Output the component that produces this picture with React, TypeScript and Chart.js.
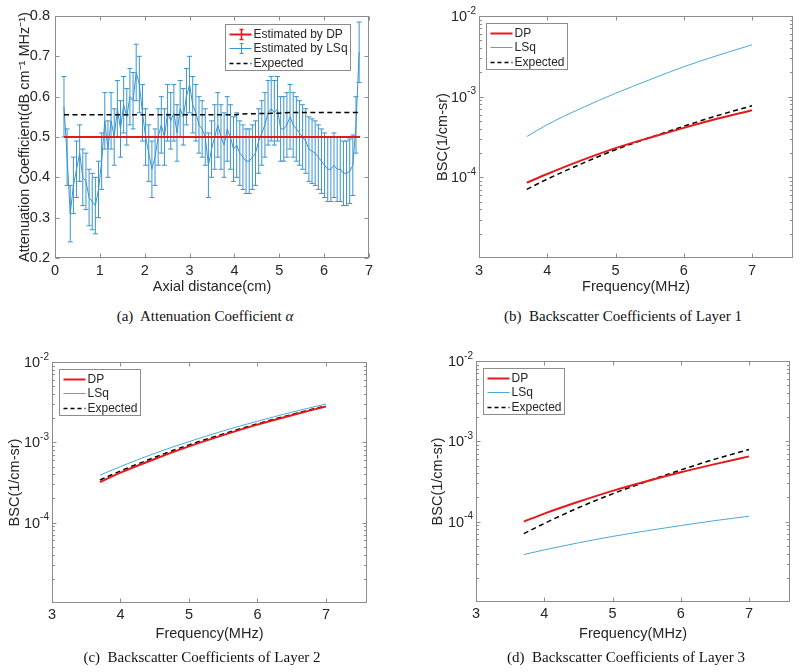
import React, { useEffect, useRef } from 'react';
import { Chart, registerables } from 'chart.js';

Chart.register(...registerables);

const FONT = '"Liberation Sans", Arial, Helvetica, sans-serif';
const SERIF = '"Liberation Serif", "Times New Roman", Times, serif';
const TEXT = '#262626';
const BOX = '#8c8c8c';
const RED = '#e4191c';
const BLUE_A = '#3a94cf';
const BLUE_L = '#4aa8d2';

// ---------- (a) Attenuation coefficient ----------
const axialCm = [
  0.2, 0.27, 0.34, 0.41, 0.48, 0.55, 0.62, 0.69, 0.76, 0.83, 0.9, 0.97, 1.04, 1.11, 1.18, 1.25,
  1.32, 1.39, 1.46, 1.53, 1.6, 1.67, 1.74, 1.81, 1.88, 1.95, 2.02, 2.09, 2.16, 2.23, 2.3, 2.37,
  2.44, 2.51, 2.58, 2.65, 2.72, 2.79, 2.86, 2.93, 3.0, 3.07, 3.14, 3.21, 3.28, 3.35, 3.42, 3.49,
  3.56, 3.63, 3.7, 3.77, 3.84, 3.91, 3.98, 4.05, 4.12, 4.19, 4.26, 4.33, 4.4, 4.47, 4.54, 4.61,
  4.68, 4.75, 4.82, 4.89, 4.96, 5.03, 5.1, 5.17, 5.24, 5.31, 5.38, 5.45, 5.52, 5.59, 5.66, 5.73,
  5.8, 5.87, 5.94, 6.01, 6.08, 6.15, 6.22, 6.29, 6.36, 6.43, 6.5, 6.57, 6.64, 6.71, 6.78,
];
const alphaLSq = [
  0.575, 0.45, 0.31, 0.38, 0.42, 0.46, 0.4, 0.39, 0.35, 0.34, 0.33, 0.37, 0.44, 0.54, 0.47, 0.54,
  0.5, 0.57, 0.52, 0.58, 0.55, 0.6, 0.59, 0.66, 0.63, 0.56, 0.5, 0.46, 0.42, 0.45, 0.5, 0.53,
  0.5, 0.56, 0.54, 0.56, 0.51, 0.57, 0.55, 0.6, 0.63, 0.58, 0.56, 0.53, 0.52, 0.5, 0.43, 0.47,
  0.5, 0.53, 0.5, 0.48, 0.52, 0.5, 0.47, 0.48, 0.46, 0.45, 0.44, 0.44, 0.45, 0.46, 0.49, 0.51,
  0.53, 0.56, 0.57, 0.56, 0.57, 0.52, 0.52, 0.53, 0.55, 0.53, 0.52, 0.51, 0.5, 0.49, 0.47, 0.465,
  0.46, 0.45, 0.44, 0.43, 0.42, 0.42, 0.43, 0.42, 0.42, 0.41, 0.41, 0.415, 0.43, 0.53, 0.71,
];
const alphaLSqErr = [
  0.075, 0.07, 0.07, 0.07, 0.07, 0.07, 0.07, 0.07, 0.07, 0.07, 0.07, 0.07, 0.07, 0.07, 0.07, 0.07,
  0.07, 0.07, 0.07, 0.07, 0.07, 0.07, 0.07, 0.07, 0.07, 0.07, 0.07, 0.07, 0.07, 0.07, 0.07, 0.07,
  0.07, 0.07, 0.07, 0.07, 0.07, 0.07, 0.07, 0.07, 0.07, 0.07, 0.07, 0.07, 0.07, 0.07, 0.08, 0.07,
  0.08, 0.08, 0.08, 0.08, 0.08, 0.08, 0.08, 0.08, 0.08, 0.08, 0.08, 0.08, 0.08, 0.08, 0.08, 0.08,
  0.08, 0.08, 0.08, 0.08, 0.08, 0.08, 0.08, 0.08, 0.08, 0.08, 0.08, 0.08, 0.08, 0.08, 0.08, 0.08,
  0.08, 0.08, 0.08, 0.08, 0.08, 0.08, 0.08, 0.08, 0.08, 0.08, 0.08, 0.08, 0.075, 0.07, 0.075,
];
const alphaDPx = [0.2, 6.8];
const alphaDP = [0.5, 0.5];
const alphaExpX = [0.2, 4.05, 4.12, 5.0, 5.3, 6.8];
const alphaExp = [0.555, 0.555, 0.557, 0.559, 0.561, 0.561];
const alphaXTicks = [0, 1, 2, 3, 4, 5, 6, 7];
const alphaYTicks = [0.2, 0.3, 0.4, 0.5, 0.6, 0.7, 0.8];

// ---------- (b)-(d) Backscatter coefficients ----------
const freqMHz = [3.7, 4, 4.5, 5, 5.5, 6, 6.5, 7];
const freqTicks = [3, 4, 5, 6, 7];
const bscTicks = [1e-4, 1e-3, 1e-2];

const bsc1DP = [8.6e-5, 1.1e-4, 1.62e-4, 2.3e-4, 3.1e-4, 4.1e-4, 5.35e-4, 6.8e-4];
const bsc1LSq = [3.2e-4, 4.5e-4, 7.2e-4, 1.1e-3, 1.62e-3, 2.35e-3, 3.25e-3, 4.4e-3];
const bsc1Exp = [7.1e-5, 9.5e-5, 1.47e-4, 2.2e-4, 3.1e-4, 4.3e-4, 5.85e-4, 7.7e-4];

const bsc2DP = [3.2e-4, 4.2e-4, 6.2e-4, 8.9e-4, 1.23e-3, 1.66e-3, 2.17e-3, 2.8e-3];
const bsc2LSq = [3.9e-4, 5.0e-4, 7.3e-4, 1.02e-3, 1.39e-3, 1.83e-3, 2.37e-3, 3.0e-3];
const bsc2Exp = [3.4e-4, 4.4e-4, 6.5e-4, 9.3e-4, 1.27e-3, 1.7e-3, 2.22e-3, 2.85e-3];

const bsc3DP = [1.0e-4, 1.26e-4, 1.77e-4, 2.42e-4, 3.19e-4, 4.12e-4, 5.2e-4, 6.5e-4];
const bsc3LSq = [3.9e-5, 4.45e-5, 5.45e-5, 6.55e-5, 7.7e-5, 8.95e-5, 1.03e-4, 1.17e-4];
const bsc3Exp = [7.1e-5, 9.5e-5, 1.49e-4, 2.22e-4, 3.16e-4, 4.4e-4, 6.0e-4, 7.9e-4];

// ---------- helpers ----------
type LegendItem = { label: string; color: string; width: number; dash?: number[]; err?: boolean };

const matlabAxes = {
  id: 'matlabAxes',
  afterDatasetsDraw(chart: any) {
    const { ctx, chartArea: ca } = chart;
    const xs = chart.scales.x;
    const ys = chart.scales.y;
    const L = Math.round(ca.left) + 0.5;
    const R = Math.round(ca.right) - 0.5;
    const T = Math.round(ca.top) + 0.5;
    const B = Math.round(ca.bottom) - 0.5;
    ctx.save();
    ctx.strokeStyle = BOX;
    ctx.lineWidth = 1;
    ctx.setLineDash([]);
    ctx.beginPath();
    for (const t of xs.ticks) {
      const px = Math.round(xs.getPixelForValue(t.value)) + 0.5;
      if (px < L - 1 || px > R + 1) continue;
      ctx.moveTo(px, B); ctx.lineTo(px, B - 4);
      ctx.moveTo(px, T); ctx.lineTo(px, T + 4);
    }
    for (const t of ys.ticks) {
      const py = Math.round(ys.getPixelForValue(t.value)) + 0.5;
      if (py < T - 1 || py > B + 1) continue;
      ctx.moveTo(L, py); ctx.lineTo(L + 4, py);
      ctx.moveTo(R, py); ctx.lineTo(R - 4, py);
    }
    if (ys.type === 'logarithmic') {
      for (let d = -6; d <= -2; d++) {
        for (let m = 2; m <= 9; m++) {
          const v = m * Math.pow(10, d);
          if (v <= ys.min || v >= ys.max) continue;
          const py = Math.round(ys.getPixelForValue(v)) + 0.5;
          ctx.moveTo(L, py); ctx.lineTo(L + 2.5, py);
          ctx.moveTo(R, py); ctx.lineTo(R - 2.5, py);
        }
      }
    }
    ctx.stroke();
    ctx.strokeRect(L, T, R - L, B - T);

    if (ys.type === 'logarithmic') {
      ctx.fillStyle = TEXT;
      ctx.textBaseline = 'middle';
      ctx.textAlign = 'right';
      for (const t of ys.ticks) {
        const py = ys.getPixelForValue(t.value);
        const supTxt = String(Math.round(Math.log10(t.value)));
        const xr = ca.left - 3;
        ctx.font = `10px ${FONT}`;
        const sw = ctx.measureText(supTxt).width;
        ctx.fillText(supTxt, xr, py - 5);
        ctx.font = `14.5px ${FONT}`;
        ctx.fillText('10', xr - sw, py + 1);
      }
    }
    ctx.restore();
  },
  afterDraw(chart: any) {
    const opts = chart.options.plugins.mlegend;
    if (!opts) return;
    const items: LegendItem[] = opts.items;
    const { ctx, chartArea: ca } = chart;
    ctx.save();
    ctx.font = `12px ${FONT}`;
    const tw = Math.max(...items.map((i) => ctx.measureText(i.label).width));
    const lineLen = 22;
    const w = Math.round(4 + lineLen + 2 + tw + 3);
    const h = 46;
    const x0 = Math.round(opts.anchor === 'right' ? ca.right - opts.dx - w : ca.left + opts.dx) + 0.5;
    const y0 = Math.round(ca.top + opts.dy) + 0.5;
    ctx.fillStyle = '#fff';
    ctx.fillRect(x0, y0, w, h);
    ctx.strokeStyle = BOX;
    ctx.lineWidth = 1;
    ctx.strokeRect(x0, y0, w, h);
    items.forEach((it, i) => {
      const y = Math.round(y0 + 9 + 14.5 * i) + 0.5;
      ctx.strokeStyle = it.color;
      ctx.lineWidth = it.width;
      ctx.setLineDash(it.dash ?? []);
      ctx.beginPath();
      ctx.moveTo(x0 + 4, y);
      ctx.lineTo(x0 + 4 + lineLen, y);
      ctx.stroke();
      if (it.err) {
        ctx.setLineDash([]);
        const cx = Math.round(x0 + 4 + lineLen / 2) + 0.5;
        ctx.lineWidth = it.width > 1.5 ? 1.5 : 1;
        ctx.beginPath();
        ctx.moveTo(cx, y - 5); ctx.lineTo(cx, y + 5);
        ctx.moveTo(cx - 2, y - 5); ctx.lineTo(cx + 2, y - 5);
        ctx.moveTo(cx - 2, y + 5); ctx.lineTo(cx + 2, y + 5);
        ctx.stroke();
      }
      ctx.fillStyle = TEXT;
      ctx.textBaseline = 'middle';
      ctx.textAlign = 'left';
      ctx.fillText(it.label, x0 + 4 + lineLen + 2, y + 0.5);
    });
    ctx.restore();
  },
};

function xScale(min: number, max: number, ticks: number[], title: string, height: number, tickPad: number, titlePad: number) {
  return {
    type: 'linear',
    min,
    max,
    afterBuildTicks: (s: any) => { s.ticks = ticks.map((v) => ({ value: v })); },
    afterFit: (s: any) => { s.height = height; },
    grid: { display: false, drawTicks: false },
    border: { display: false },
    ticks: {
      color: TEXT,
      font: { family: FONT, size: 14.5 },
      padding: tickPad,
      maxRotation: 0,
      autoSkip: false,
      callback: (v: any) => String(v),
    },
    title: { display: true, text: title, color: TEXT, font: { family: FONT, size: 14.5 }, padding: { top: 0, bottom: titlePad } },
  };
}

function yTitle(text: string, pad: number) {
  return { display: true, text, color: TEXT, font: { family: FONT, size: 14.5 }, padding: { top: pad, bottom: 0 } };
}

function pts(xs: number[], ys: number[]) {
  return xs.map((x, i) => ({ x, y: ys[i] }));
}

function errPts(xs: number[], ys: number[], es: number[]) {
  const out: any[] = [];
  xs.forEach((x, i) => {
    out.push({ x, y: ys[i] - es[i] });
    out.push({ x, y: ys[i] + es[i] });
    out.push({ x, y: null });
  });
  return out;
}

function makeAlpha() {
  return {
    type: 'line',
    data: {
      datasets: [
        { label: 'Estimated by DP', data: pts(alphaDPx, alphaDP), borderColor: RED, borderWidth: 2, pointRadius: 0 },
        { label: 'Expected', data: pts(alphaExpX, alphaExp), borderColor: '#000', borderWidth: 1.5, borderDash: [5, 3.5], pointRadius: 0 },
        { label: 'Estimated by LSq', data: pts(axialCm, alphaLSq), borderColor: BLUE_A, borderWidth: 1, pointRadius: 0 },
        {
          label: 'LSq error',
          data: errPts(axialCm, alphaLSq, alphaLSqErr),
          borderColor: BLUE_A,
          borderWidth: 1,
          spanGaps: false,
          pointStyle: 'line',
          pointRadius: 2.5,
          pointBorderWidth: 1,
          pointBorderColor: BLUE_A,
        },
      ],
    },
    options: {
      animation: false,
      responsive: false,
      devicePixelRatio: 1,
      events: [],
      layout: { padding: { left: 0, right: 31, top: 16, bottom: 0 } },
      scales: {
        x: xScale(0, 7, alphaXTicks, 'Axial distance(cm)', 42, 4.3, 4.3),
        y: {
          type: 'linear',
          min: 0.2,
          max: 0.8,
          afterBuildTicks: (s: any) => { s.ticks = alphaYTicks.map((v) => ({ value: v })); },
          afterFit: (s: any) => { s.width = 55; },
          grid: { display: false, drawTicks: false },
          border: { display: false },
          ticks: { color: TEXT, font: { family: FONT, size: 14.5 }, padding: 5, callback: (v: any) => Number(v).toFixed(1) },
          title: yTitle('Attenuation Coefficient(dB cm\u207B\u00B9 MHz\u207B\u00B9)', 16.3),
        },
      },
      plugins: {
        legend: { display: false },
        tooltip: { enabled: false },
        mlegend: {
          anchor: 'right',
          dx: 19,
          dy: 8,
          items: [
            { label: 'Estimated by DP', color: RED, width: 2, err: true },
            { label: 'Estimated by LSq', color: BLUE_A, width: 1, err: true },
            { label: 'Expected', color: '#000', width: 1.5, dash: [4, 3] },
          ],
        },
      },
    },
    plugins: [matlabAxes],
  };
}

function makeBsc(dp: number[], lsq: number[], exp: number[], axisW: number, padR: number, padT: number, xH: number, tickPad: number, xTitlePad: number, yTitlePad: number) {
  return () => ({
    type: 'line',
    data: {
      datasets: [
        { label: 'DP', data: pts(freqMHz, dp), borderColor: RED, borderWidth: 2, pointRadius: 0, cubicInterpolationMode: 'monotone' },
        { label: 'Expected', data: pts(freqMHz, exp), borderColor: '#000', borderWidth: 1.5, borderDash: [5, 3.5], pointRadius: 0, cubicInterpolationMode: 'monotone' },
        { label: 'LSq', data: pts(freqMHz, lsq), borderColor: BLUE_L, borderWidth: 1, pointRadius: 0, cubicInterpolationMode: 'monotone' },
      ],
    },
    options: {
      animation: false,
      responsive: false,
      devicePixelRatio: 1,
      events: [],
      layout: { padding: { left: 0, right: padR, top: padT, bottom: 0 } },
      scales: {
        x: xScale(3, 7.6, freqTicks, 'Frequency(MHz)', xH, tickPad, xTitlePad),
        y: {
          type: 'logarithmic',
          min: 1e-5,
          max: 1e-2,
          afterBuildTicks: (s: any) => { s.ticks = bscTicks.map((v) => ({ value: v })); },
          afterFit: (s: any) => { s.width = axisW; },
          grid: { display: false, drawTicks: false },
          border: { display: false },
          ticks: { display: false },
          title: yTitle('BSC(1/cm-sr)', yTitlePad),
        },
      },
      plugins: {
        legend: { display: false },
        tooltip: { enabled: false },
        mlegend: {
          anchor: 'left',
          dx: 7,
          dy: 7,
          items: [
            { label: 'DP', color: RED, width: 2 },
            { label: 'LSq', color: BLUE_L, width: 1 },
            { label: 'Expected', color: '#000', width: 1.5, dash: [4, 3] },
          ],
        },
      },
    },
    plugins: [matlabAxes],
  });
}

function Panel({ left, top, width, height, make }: { left: number; top: number; width: number; height: number; make: () => any }) {
  const ref = useRef<HTMLCanvasElement>(null);
  useEffect(() => {
    const chart = new Chart(ref.current as HTMLCanvasElement, make());
    return () => chart.destroy();
  }, []);
  return (
    <canvas
      ref={ref}
      width={width}
      height={height}
      style={{ position: 'absolute', left, top, width, height, display: 'block' }}
    />
  );
}

const captionStyle: React.CSSProperties = {
  position: 'absolute',
  transform: 'translate(-50%, -50%)',
  font: `15px ${SERIF}`,
  color: '#111',
  whiteSpace: 'pre',
  lineHeight: '18px',
};

export default function App() {
  return (
    <div style={{ position: 'absolute', left: 0, top: 0, width: 800, height: 672, background: '#fff', overflow: 'hidden' }}>
      <Panel left={0} top={0} width={400} height={300} make={makeAlpha} />
      <Panel left={400} top={0} width={400} height={300} make={makeBsc(bsc1DP, bsc1LSq, bsc1Exp, 79, 7, 16, 42, 4.3, 4.3, 34.3)} />
      <Panel left={0} top={330} width={400} height={320} make={makeBsc(bsc2DP, bsc2LSq, bsc2Exp, 52, 33, 32, 47, 3.3, 7.3, 6.3)} />
      <Panel left={400} top={330} width={400} height={320} make={makeBsc(bsc3DP, bsc3LSq, bsc3Exp, 76, 10, 31, 48, 3.3, 7.3, 29.7)} />
      <div style={{ ...captionStyle, left: 205, top: 316 }}>(a)  Attenuation Coefficient <i>α</i></div>
      <div style={{ ...captionStyle, left: 623, top: 316 }}>(b)  Backscatter Coefficients of Layer 1</div>
      <div style={{ ...captionStyle, left: 202, top: 657 }}>(c)  Backscatter Coefficients of Layer 2</div>
      <div style={{ ...captionStyle, left: 626, top: 657 }}>(d)  Backscatter Coefficients of Layer 3</div>
    </div>
  );
}
